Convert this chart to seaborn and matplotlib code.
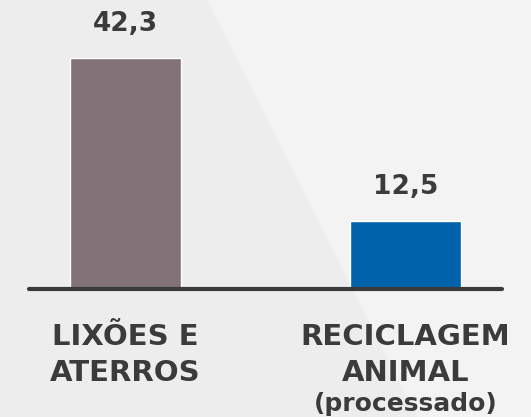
import numpy as np
import pandas as pd
import seaborn as sns
from matplotlib import pyplot as plt
from matplotlib.patches import Polygon

categories = ['LIXÕES E\nATERROS', 'RECICLAGEM\nANIMAL']
subtitles = ['', '(processado)']
values = [42.3, 12.5]
value_labels = ['42,3', '12,5']
bar_colors = ['#817378', '#0062a8']

df = pd.DataFrame({'cat': categories, 'val': values})

sns.set_style('white')
plt.rcParams['font.family'] = ['DejaVu Sans']

fig = plt.figure(figsize=(5.31, 4.17), dpi=100)
fig.patch.set_facecolor('#ededed')

# background layer with the lighter diagonal panel
bg = fig.add_axes([0, 0, 1, 1], zorder=-1)
bg.set_xlim(0, 1)
bg.set_ylim(0, 1)
bg.patch.set_facecolor('#ededed')
bg.add_patch(Polygon([(0.39, 1), (1, 1), (1, 0), (0.785, 0)], closed=True,
                     facecolor='#f3f3f3', edgecolor='none'))
bg.axis('off')

ax = fig.add_axes([0, 0, 1, 1])
ax.patch.set_alpha(0)
sns.barplot(data=df, x='cat', y='val', hue='cat', palette=bar_colors,
            width=0.396, legend=False, ax=ax, saturation=1)

ax.set_xlim(-0.448, 1.448)
ax.set_ylim(-23.4, 52.9)
ax.axhline(0, xmin=0.055, xmax=0.945, color='#3a3a3a', lw=3, zorder=5)

txt = '#3b3b3b'
for i, (v, lab) in enumerate(zip(values, value_labels)):
    ax.text(i, v + 3.8, lab, ha='center', va='bottom', fontsize=19,
            fontweight='bold', color=txt)

for i, cat in enumerate(categories):
    ax.text(i, -6.2, cat, ha='center', va='top', fontsize=21,
            fontweight='bold', color=txt, linespacing=1.35)
    if subtitles[i]:
        ax.text(i, -18.9, subtitles[i], ha='center', va='top', fontsize=18,
                fontweight='bold', color=txt)

ax.set_xlabel('')
ax.set_ylabel('')
ax.set_xticks([])
ax.set_yticks([])
sns.despine(ax=ax, left=True, bottom=True)

fig.savefig('out.png', dpi=100, facecolor=fig.get_facecolor())
